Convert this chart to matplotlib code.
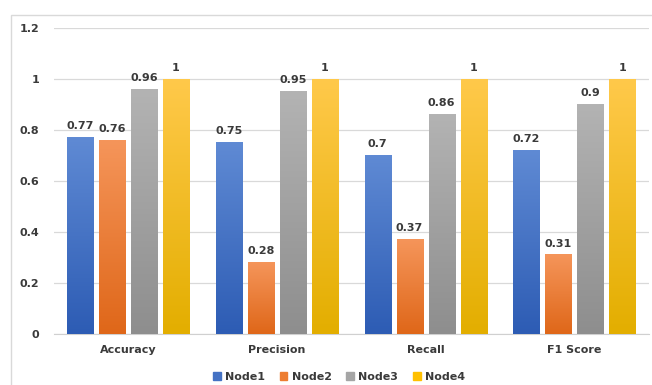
import matplotlib.pyplot as plt
import matplotlib.patches as mpatches
from matplotlib.colors import LinearSegmentedColormap
import numpy as np

METRICS = ["Accuracy", "Precision", "Recall", "F1 Score"]
NODES = ["Node1", "Node2", "Node3", "Node4"]
NODE1 = [0.77, 0.75, 0.7, 0.72]
NODE2 = [0.76, 0.28, 0.37, 0.31]
NODE3 = [0.96, 0.95, 0.86, 0.9]
NODE4 = [1, 1, 1, 1]
Y_TICKS = [0, 0.2, 0.4, 0.6, 0.8, 1, 1.2]

# (top, bottom) colours for the vertical gradient fill of each series
GRADIENTS = [("#5F8AD4", "#2D5CB4"),
             ("#F5955A", "#DF6719"),
             ("#B3B3B3", "#8E8E8E"),
             ("#FFC94A", "#E3AE00")]
BASE_COLORS = ["#4472C4", "#ED7D31", "#A5A5A5", "#FFC000"]
TEXT_COLOR = "#3A3A3A"


def fmt(v):
    return f"{v:g}"


def main():
    fig = plt.figure(figsize=(6.52, 3.85), dpi=100)
    ax = fig.add_axes([0.0822, 0.1325, 0.9128, 0.7945])

    # thin frame around the whole chart
    fig.patches.append(mpatches.Rectangle((10.5 / 652, -0.1), 1.1, (385 - 14.5) / 385 + 0.1,
                                          transform=fig.transFigure, fill=False,
                                          edgecolor="#D9D9D9", linewidth=1))

    series = [NODE1, NODE2, NODE3, NODE4]
    x = np.arange(len(METRICS))
    width = 0.175
    step = 0.215
    offsets = (np.arange(len(NODES)) - 1.5) * step

    handles = []
    for i, vals in enumerate(series):
        top, bottom = GRADIENTS[i]
        cmap = LinearSegmentedColormap.from_list(f"g{i}", [bottom, top])
        grad = np.linspace(0, 1, 128).reshape(-1, 1)
        for xi, v in zip(x + offsets[i], vals):
            ax.imshow(grad, extent=(xi - width / 2, xi + width / 2, 0, v), origin="lower",
                      cmap=cmap, aspect="auto", zorder=3)
            ax.text(xi, v + 0.025, fmt(v), ha="center", va="bottom", fontsize=8,
                    fontweight="bold", color=TEXT_COLOR, zorder=4)
        handles.append(mpatches.Patch(color=BASE_COLORS[i], label=NODES[i]))

    ax.set_xlim(-0.5, len(METRICS) - 0.5)
    ax.set_ylim(0, 1.2)
    ax.set_yticks(Y_TICKS)
    ax.set_yticklabels([fmt(t) for t in Y_TICKS])
    ax.set_xticks(x)
    ax.set_xticklabels(METRICS)
    for lbl in ax.get_xticklabels() + ax.get_yticklabels():
        lbl.set_fontweight("bold")
        lbl.set_fontsize(8)
        lbl.set_color(TEXT_COLOR)
    ax.tick_params(axis="both", length=0)
    ax.tick_params(axis="x", pad=8)
    ax.tick_params(axis="y", pad=10.5)

    ax.grid(axis="y", color="#D9D9D9", linewidth=0.9, zorder=0)
    ax.set_axisbelow(True)
    for side in ["top", "right", "left"]:
        ax.spines[side].set_visible(False)
    ax.spines["bottom"].set_color("#D0D0D0")

    leg = fig.legend(handles=handles, loc="center", bbox_to_anchor=(0.52, 0.021), ncol=4,
                     frameon=False, handlelength=0.7, handleheight=0.7, handletextpad=0.4,
                     columnspacing=1.3, prop={"size": 8, "weight": "bold"})
    for t in leg.get_texts():
        t.set_color(TEXT_COLOR)

    fig.savefig("out.png", dpi=100)


if __name__ == "__main__":
    main()
